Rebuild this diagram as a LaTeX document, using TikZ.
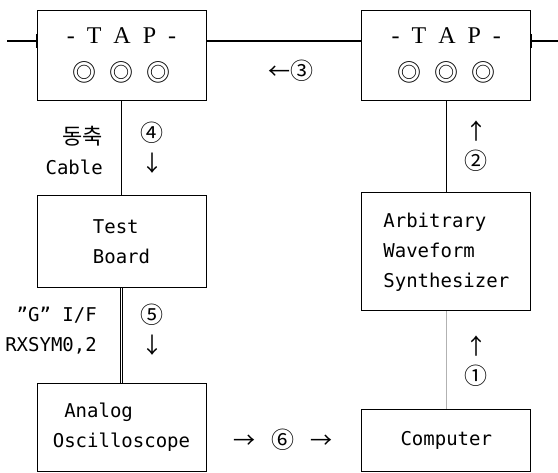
\documentclass[tikz,border=0pt]{standalone}
\usepackage{fontspec}
\setmainfont{DejaVu Sans Mono}
\newfontfamily\hangul{Noto Sans CJK KR}
\newfontfamily\tapfont{Liberation Serif}
\usetikzlibrary{positioning}

\newcommand{\circno}[1]{{\hangul\fontsize{23}{30}\selectfont #1}}
\newcommand{\arr}[1]{{\hangul\fontsize{22}{30}\selectfont #1}}
\newcommand{\jacks}{{\hangul\fontsize{24}{24}\selectfont ◎\hspace{13pt}◎\hspace{13pt}◎}}

\begin{document}
\begin{tikzpicture}[x=1pt, y=-1pt, node distance=95pt and 155pt,
  box/.style={draw, line width=0.8pt, rectangle, minimum width=169pt, inner sep=0pt, align=left, font=\fontsize{19}{30}\selectfont},
  tapbox/.style={box, minimum height=90pt, align=center, font=\tapfont\fontsize{24}{38}\selectfont},
  bus/.style={line width=1.6pt},
  feed/.style={line width=1.4pt},
  note/.style={inner sep=0pt, align=center, font=\fontsize{19}{30}\selectfont}]

  \useasboundingbox (0,0) rectangle (558,473);

  % TAP 두 개와 장비 블록
  \node [tapbox] (tapL) at (121.5,55) {-\hspace{12pt}T\hspace{12pt}A\hspace{12pt}P\hspace{12pt}-\\ \jacks};
  \node [tapbox, right=of tapL] (tapR) {-\hspace{12pt}T\hspace{12pt}A\hspace{12pt}P\hspace{12pt}-\\ \jacks};
  \node [box, minimum height=92pt, below=of tapL] (board) {Test\\Board};
  \node [box, minimum height=88pt, below=of board] (osc) {\phantom{O}Analog\\Oscilloscope};
  \node [box, minimum height=118pt, below=92pt of tapR] (awg) {Arbitrary\\Waveform\\Synthesizer};
  \node [box, minimum height=62pt, below=98pt of awg] (comp) {Computer};

  % 선로
  \coordinate (busin) at (7,41);
  \coordinate (busout) at (558,41);
  \draw [bus] (busin) -- (busin -| tapL.west);
  \draw [bus] (tapL.east |- busin) -- (tapR.west |- busin);
  \draw [bus] (tapR.east |- busin) -- (busout);
  \foreach \p in {tapL.west, tapL.east, tapR.west, tapR.east}
    \draw [bus] (\p |- busin) ++(0,-7) -- ++(0,14);

  % 연결
  \draw [feed] (tapL) -- (board);
  \draw [double, double distance=1.6pt, line width=0.6pt] (board) -- (osc);
  \draw [feed] (tapR) -- (awg);
  \draw [line width=0.8pt, gray!60] (awg) -- (comp);

  % 설명 및 순서
  \node [note, anchor=east, align=right] (coax) at (103,150) {{\hangul\fontsize{22}{30}\selectfont 동축}\\Cable};
  \node [note] (step4) at (152,148) {\circno{④}\\\arr{↓}};
  \node [note] (step2) at (476,146) {\arr{↑}\\\circno{②}};
  \node [note, anchor=east, align=right] (gif) at (97,331) {"G" I/F\\RXSYM0,2};
  \node [note] (step5) at (152,330) {\circno{⑤}\\\arr{↓}};
  \node [note] (step1) at (476,361) {\arr{↑}\\\circno{①}};
  \node [note] (step3) at (291,71) {\arr{←}\circno{③}};
  \node [note] (step6) at (283,440) {\arr{→}\hspace{16pt}\circno{⑥}\hspace{16pt}\arr{→}};
\end{tikzpicture}
\end{document}
